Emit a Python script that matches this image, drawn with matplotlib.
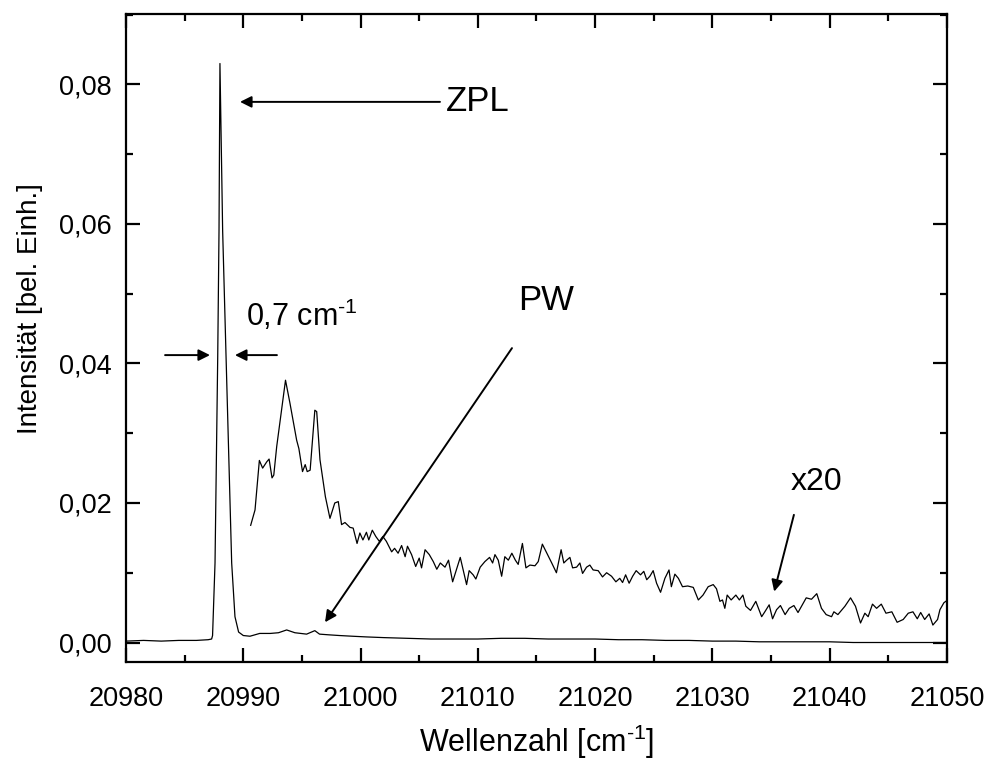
import matplotlib
matplotlib.use("Agg")
import matplotlib.pyplot as plt
from matplotlib.ticker import MultipleLocator, FixedLocator

plt.rcParams['font.family'] = ['Liberation Sans', 'DejaVu Sans']
plt.rcParams['mathtext.default'] = 'regular'

# main spectrum
main_x = [20980.0, 20981.5, 20983.0, 20984.5, 20986.0, 20987.0, 20987.3, 20987.38,
          20987.59, 20987.82, 20987.93, 20988.01, 20988.24, 20988.53, 20989.01,
          20989.29, 20989.6, 20990.0, 20990.57, 20991.4, 20992.3, 20993.0, 20993.7,
          20994.4, 20995.4, 20996.1, 20996.5, 20997.3, 20998.2, 20999.3, 21000.5,
          21002.0, 21004.0, 21006.0, 21008.0, 21010.0, 21012.0, 21014.0, 21016.0,
          21018.0, 21020.0, 21022.0, 21024.0, 21026.0, 21028.0, 21030.0, 21032.0,
          21034.0, 21036.0, 21038.0, 21040.0, 21042.0, 21044.0, 21046.0, 21048.0,
          21050.0]
main_y = [0.0002, 0.0003, 0.0002, 0.0003, 0.0003, 0.0004, 0.0005, 0.0010,
          0.0114, 0.0410, 0.0590, 0.0830, 0.0590, 0.0410, 0.0114,
          0.0037, 0.0015, 0.0010, 0.0009, 0.0013, 0.0013, 0.0014, 0.0018,
          0.0014, 0.0012, 0.0017, 0.0012, 0.0011, 0.0010, 0.0009, 0.0008,
          0.0007, 0.0006, 0.0005, 0.0005, 0.0005, 0.0006, 0.0006, 0.0005,
          0.0005, 0.0005, 0.0004, 0.0004, 0.0003, 0.0003, 0.0002, 0.0002,
          0.0001, 0.0001, 0.0001, 0.0001, 0.0000, 0.0000, 0.0000, 0.0000,
          0.0000]

# x20 magnified part
x20_x = [20990.63, 20991.0, 20991.37, 20991.65, 20992.0, 20992.2, 20992.45, 20992.6,
         20992.85, 20993.6, 20993.98, 20994.55, 20994.74, 20995.05, 20995.28, 20995.45,
         20995.7, 20996.1, 20996.26, 20996.54, 20997.0, 20997.39, 20997.8, 20998.1,
         20998.38, 20998.67, 20999.1, 20999.37, 20999.7, 20999.94, 21000.2, 21000.5,
         21000.7, 21001.0, 21001.3, 21001.6, 21001.9, 21002.2, 21002.65, 21002.9,
         21003.2, 21003.5, 21003.8, 21004.0, 21004.35, 21004.7, 21005.0, 21005.2,
         21005.5, 21005.86, 21006.2, 21006.5, 21006.8, 21007.2, 21007.5, 21007.85,
         21008.5, 21008.75, 21009.04, 21009.26, 21009.6, 21009.83, 21010.2, 21010.6,
         21011.0, 21011.26, 21011.46, 21011.74, 21012.03, 21012.3, 21012.6, 21012.9,
         21013.2, 21013.44, 21013.8, 21014.1, 21014.44, 21014.87, 21015.15, 21015.5,
         21015.86, 21016.3, 21016.7, 21017.1, 21017.33, 21017.57, 21017.85, 21018.08,
         21018.42, 21018.7, 21018.93, 21019.27, 21019.55, 21019.83, 21020.26, 21020.63,
         21020.98, 21021.4, 21021.77, 21022.1, 21022.34, 21022.6, 21022.9, 21023.2,
         21023.5, 21023.87, 21024.15, 21024.4, 21024.67, 21024.95, 21025.24, 21025.58,
         21025.95, 21026.3, 21026.5, 21026.8, 21027.1, 21027.45, 21027.9, 21028.37,
         21028.8, 21029.2, 21029.64, 21030.07, 21030.35, 21030.64, 21030.86, 21031.06,
         21031.26, 21031.6, 21032.0, 21032.3, 21032.6, 21032.85, 21033.25, 21033.7,
         21034.2, 21034.47, 21034.84, 21035.13, 21035.47, 21035.8, 21036.2, 21036.55,
         21036.95, 21037.3, 21037.74, 21038.0, 21038.45, 21038.9, 21039.3, 21039.7,
         21040.16, 21040.36, 21040.7, 21041.3, 21041.78, 21042.2, 21042.63, 21043.0,
         21043.28, 21043.65, 21044.0, 21044.4, 21044.8, 21045.3, 21045.75, 21046.27,
         21046.7, 21047.1, 21047.47, 21047.76, 21048.1, 21048.48, 21048.8, 21049.2,
         21049.4, 21049.74, 21049.9]
x20_y = [0.0168, 0.0190, 0.0261, 0.0250, 0.0259, 0.0263, 0.0236, 0.0240,
         0.0281, 0.0376, 0.0343, 0.0290, 0.0278, 0.0245, 0.0255, 0.0245,
         0.0247, 0.0333, 0.0331, 0.0262, 0.0209, 0.0178, 0.0200, 0.0202,
         0.0169, 0.0172, 0.0165, 0.0164, 0.0142, 0.0157, 0.0147, 0.0158,
         0.0147, 0.0161, 0.0152, 0.0145, 0.0152, 0.0145, 0.0130, 0.0135,
         0.0128, 0.0139, 0.0123, 0.0138, 0.0126, 0.0109, 0.0121, 0.0107,
         0.0133, 0.0126, 0.0116, 0.0105, 0.0114, 0.0108, 0.0118, 0.0087,
         0.0122, 0.0104, 0.0083, 0.0103, 0.0097, 0.0091, 0.0108, 0.0116,
         0.0122, 0.0114, 0.0126, 0.0118, 0.0095, 0.0123, 0.0118, 0.0128,
         0.0118, 0.0112, 0.0142, 0.0107, 0.0111, 0.0110, 0.0116, 0.0141,
         0.0129, 0.0114, 0.0100, 0.0133, 0.0114, 0.0118, 0.0122, 0.0107,
         0.0108, 0.0114, 0.0099, 0.0108, 0.0111, 0.0104, 0.0103, 0.0094,
         0.0100, 0.0095, 0.0087, 0.0092, 0.0086, 0.0097, 0.0085, 0.0095,
         0.0103, 0.0097, 0.0102, 0.0090, 0.0095, 0.0103, 0.0085, 0.0072,
         0.0092, 0.0104, 0.0080, 0.0098, 0.0092, 0.0080, 0.0081, 0.0079,
         0.0061, 0.0068, 0.0080, 0.0083, 0.0077, 0.0059, 0.0061, 0.0049,
         0.0068, 0.0061, 0.0068, 0.0061, 0.0068, 0.0052, 0.0046, 0.0059,
         0.0037, 0.0044, 0.0054, 0.0034, 0.0047, 0.0053, 0.0040, 0.0049,
         0.0053, 0.0043, 0.0056, 0.0064, 0.0062, 0.0070, 0.0049, 0.0040,
         0.0037, 0.0044, 0.0040, 0.0052, 0.0064, 0.0052, 0.0028, 0.0042,
         0.0037, 0.0055, 0.0049, 0.0055, 0.0042, 0.0044, 0.0029, 0.0033,
         0.0042, 0.0044, 0.0034, 0.0043, 0.0033, 0.0041, 0.0025, 0.0033,
         0.0047, 0.0057, 0.0059]

x_ticks = [20980, 20990, 21000, 21010, 21020, 21030, 21040, 21050]
y_ticks = [0.00, 0.02, 0.04, 0.06, 0.08]
y_tick_labels = ['0,00', '0,02', '0,04', '0,06', '0,08']

fig = plt.figure(figsize=(9.86, 7.6), dpi=100)
ax = fig.add_axes([0.1278, 0.1289, 0.8326, 0.8527])

ax.plot(main_x, main_y, color='black', lw=0.9)
ax.plot(x20_x, x20_y, color='black', lw=0.9)

ax.set_xlim(20980, 21050)
ax.set_ylim(-0.0028, 0.0901)

ax.xaxis.set_major_locator(FixedLocator(x_ticks))
ax.xaxis.set_minor_locator(MultipleLocator(5))
ax.yaxis.set_major_locator(FixedLocator(y_ticks))
ax.yaxis.set_minor_locator(MultipleLocator(0.01))
ax.set_yticklabels(y_tick_labels)
ax.set_xticklabels([str(t) for t in x_ticks])

ax.tick_params(which='both', direction='in', top=True, right=True, width=1.6)
ax.tick_params(which='major', length=10, labelsize=19.5)
ax.tick_params(which='minor', length=5)
ax.tick_params(axis='x', which='major', pad=17)
ax.tick_params(axis='y', which='major', pad=10)
for s in ax.spines.values():
    s.set_linewidth(1.6)

ax.set_xlabel('Wellenzahl [cm$^{\u2010 1}$]', fontsize=22)
ax.set_ylabel('Intensität [bel. Einh.]', fontsize=20)
ax.xaxis.set_label_coords(0.5, -0.093)
ax.yaxis.set_label_coords(-0.101, 0.546)

arrow = dict(arrowstyle='-|>', color='black', lw=1.4, mutation_scale=17,
             shrinkA=0, shrinkB=0)

# ZPL
ax.annotate('', xy=(20989.72, 0.0775), xytext=(21006.77, 0.0775), arrowprops=arrow)
ax.text(21007.3, 0.0775, 'ZPL', fontsize=25, va='center', ha='left')

# FWHM arrows
ax.annotate('', xy=(20987.16, 0.0412), xytext=(20983.33, 0.0412), arrowprops=arrow)
ax.annotate('', xy=(20989.29, 0.0412), xytext=(20992.87, 0.0412), arrowprops=arrow)
ax.text(20990.25, 0.0454, '0,7 cm$^{\u2010 1}$', fontsize=22, va='baseline', ha='left')

# PW
ax.annotate('', xy=(20996.97, 0.0029), xytext=(21012.91, 0.0422), arrowprops=arrow)
ax.text(21013.4, 0.0490, 'PW', fontsize=25, va='center', ha='left')

# x20
ax.annotate('', xy=(21035.27, 0.0073), xytext=(21036.95, 0.0183), arrowprops=arrow)
ax.text(21038.83, 0.0230, 'x20', fontsize=23, va='center', ha='center')

fig.savefig('out.png', dpi=100)
